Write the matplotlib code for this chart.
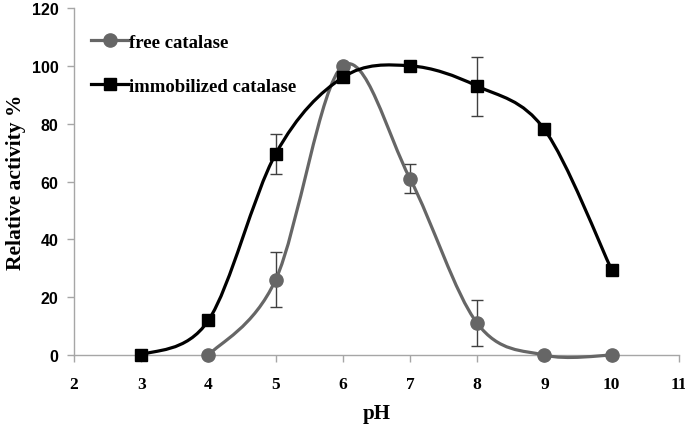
import matplotlib
matplotlib.use("Agg")
import matplotlib.pyplot as plt
import numpy as np
from matplotlib.path import Path
from matplotlib.patches import PathPatch
from matplotlib.lines import Line2D

# data
ph_free = [4, 5, 6, 7, 8, 9, 10]
act_free = [0, 26, 100, 61, 11, 0, 0]
err_free = [0, 9.5, 0, 5, 8, 0, 0]

ph_imm = [3, 4, 5, 6, 7, 8, 9, 10]
act_imm = [0, 12, 69.5, 96, 100, 93, 78, 29.5]
err_imm = [0, 0, 7, 0, 0, 10.2, 0, 0]

x_ticks = [2, 3, 4, 5, 6, 7, 8, 9, 10, 11]
y_ticks = [0, 20, 40, 60, 80, 100, 120]

GREY = "#666666"
AXIS = "#a6a6a6"


def smooth_path(xs, ys):
    """Excel-like smoothed line as cubic bezier segments."""
    p = np.column_stack([xs, ys]).astype(float)
    n = len(p)
    verts = [p[0]]
    codes = [Path.MOVETO]
    for i in range(n - 1):
        p0 = p[i - 1] if i > 0 else p[i]
        p3 = p[i + 2] if i + 2 < n else p[i + 1]
        c1 = p[i] + (p[i + 1] - p0) / 6
        c2 = p[i + 1] - (p3 - p[i]) / 6
        verts += [c1, c2, p[i + 1]]
        codes += [Path.CURVE4] * 3
    return Path(verts, codes)


fig = plt.figure(figsize=(6.85, 4.27), dpi=100)
ax = fig.add_axes([0.108, 0.166, 0.883, 0.813])

for xs, ys, c in [(ph_free, act_free, GREY), (ph_imm, act_imm, "black")]:
    ax.add_patch(PathPatch(smooth_path(xs, ys), fill=False, edgecolor=c, lw=2.3,
                           zorder=3, clip_on=False))

ax.errorbar(ph_free, act_free, yerr=err_free, fmt="none", ecolor="#404040",
            elinewidth=1, capsize=4, capthick=1, zorder=2)
ax.errorbar(ph_imm, act_imm, yerr=err_imm, fmt="none", ecolor="#404040",
            elinewidth=1, capsize=4, capthick=1, zorder=2)
ax.plot(ph_free, act_free, "o", color=GREY, ms=9.5, zorder=4, clip_on=False)
ax.plot(ph_imm, act_imm, "s", color="black", ms=8.5, zorder=5, clip_on=False)

ax.set_xlim(2, 11)
ax.set_ylim(0, 120)
ax.set_xticks(x_ticks)
ax.set_yticks(y_ticks)
ax.set_xticklabels([str(v) for v in x_ticks], family="Liberation Serif",
                   fontweight="bold", fontsize=12.5)
ax.set_yticklabels([str(v) for v in y_ticks], family="Liberation Sans",
                   fontweight="bold", fontsize=11.5)
ax.tick_params(axis="both", colors=AXIS, length=5, width=1)
ax.tick_params(axis="both", labelcolor="black")
ax.tick_params(axis="x", pad=10)
ax.tick_params(axis="y", pad=6)

for s in ["top", "right"]:
    ax.spines[s].set_visible(False)
for s in ["left", "bottom"]:
    ax.spines[s].set_color(AXIS)
    ax.spines[s].set_linewidth(1)

ax.set_xlabel("pH", family="Liberation Serif", fontweight="bold", fontsize=15,
              labelpad=8)
ax.set_ylabel("Relative activity %", family="Liberation Serif",
              fontweight="bold", fontsize=15.5, labelpad=4)

handles = [
    Line2D([], [], color=GREY, lw=2.3, marker="o", ms=9.5),
    Line2D([], [], color="black", lw=2.3, marker="s", ms=8.5),
]
ax.legend(handles, ["free catalase", "immobilized catalase"], loc="upper left",
          bbox_to_anchor=(0.0, 0.975), frameon=False, handlelength=2.0,
          handletextpad=0.05, labelspacing=1.45,
          prop={"family": "Liberation Serif", "weight": "bold", "size": 13.5})

fig.savefig("out.png", dpi=100)
